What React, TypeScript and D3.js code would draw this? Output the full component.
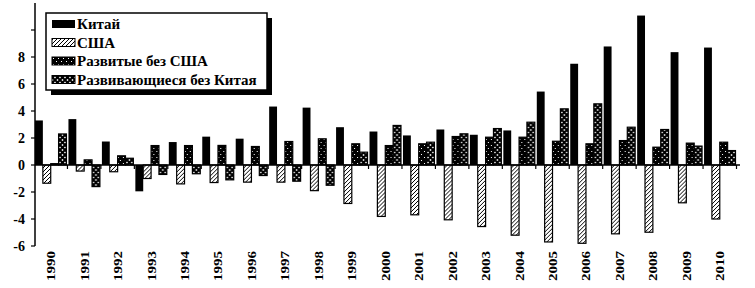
import React from "react";
import * as d3 from "d3";

const years = ["1990","1991","1992","1993","1994","1995","1996","1997","1998","1999","2000","2001","2002","2003","2004","2005","2006","2007","2008","2009","2010"];
const seriesNames = ["Китай", "США", "Развитые без США", "Развивающиеся без Китая"];
const china = [3.3, 3.4, 1.74, -1.95, 1.7, 2.1, 1.95, 4.33, 4.25, 2.8, 2.48, 2.19, 2.63, 2.24, 2.56, 5.44, 7.5, 8.78, 11.07, 8.36, 8.7];
const usa = [-1.35, -0.45, -0.5, -1.0, -1.4, -1.3, -1.27, -1.27, -1.9, -2.85, -3.81, -3.69, -4.06, -4.56, -5.2, -5.7, -5.8, -5.1, -4.98, -2.8, -4.0];
const developedExUS = [0.1, 0.38, 0.68, 1.44, 1.44, 1.45, 1.37, 1.74, 1.94, 1.57, 1.44, 1.57, 2.11, 2.06, 2.06, 1.76, 1.57, 1.81, 1.32, 1.62, 1.69];
const developingExChina = [2.3, -1.6, 0.5, -0.7, -0.65, -1.1, -0.78, -1.2, -1.5, 0.95, 2.93, 1.69, 2.31, 2.7, 3.17, 4.16, 4.53, 2.8, 2.63, 1.4, 1.07];
const yTicks = [-6, -4, -2, 0, 2, 4, 6, 8, 10];
const yLabels = ["-6", "-4", "-2", "0", "2", "4", "6", "8", ""];

const seriesValues = [china, usa, developedExUS, developingExChina];
const fills = ["#000", "url(#hatch)", "url(#stipple)", "url(#cross)"];

const W = 755, H = 288;
const FONT = "'Liberation Serif', 'DejaVu Serif', serif";

export default function App() {
  const y = d3.scaleLinear().domain([-6, 12]).range([246, 3]);
  const x0 = d3.scaleBand<string>().domain(years).range([35, 735.5]).paddingInner(0.06).paddingOuter(0);
  const x1 = d3.scaleBand<number>().domain([0, 1, 2, 3]).range([0, x0.bandwidth()]).padding(0);
  const step = x0.step();
  const gap = step - x0.bandwidth();
  const zeroY = y(0);
  const catTicks = years.map((yr) => (x0(yr) as number) + x0.bandwidth() + gap / 2);

  return (
    <svg width={W} height={H} style={{ position: "absolute", left: 0, top: 0, background: "#fff", fontFamily: FONT }}>
      <defs>
        <pattern id="hatch" patternUnits="userSpaceOnUse" width="4" height="4">
          <rect width="4" height="4" fill="#fff" />
          <path d="M-1,1 l2,-2 M0,4 l4,-4 M3,5 l2,-2" stroke="#000" strokeWidth="1" />
        </pattern>
        <pattern id="stipple" patternUnits="userSpaceOnUse" width="5" height="6">
          <rect width="5" height="6" fill="#000" />
          <rect x="1" y="1" width="1" height="1" fill="#fff" />
          <rect x="3" y="4" width="1" height="1" fill="#fff" />
        </pattern>
        <pattern id="cross" patternUnits="userSpaceOnUse" width="5" height="5">
          <rect width="5" height="5" fill="#fff" />
          <path d="M0,0 L5,5 M5,0 L0,5" stroke="#000" strokeWidth="2" />
        </pattern>
      </defs>

      {years.map((yr, i) => (
        <g key={yr} transform={`translate(${x0(yr)},0)`}>
          {seriesValues.map((vals, s) => {
            const v = vals[i];
            const top = Math.min(y(v), zeroY);
            const h = Math.abs(y(v) - zeroY);
            return (
              <rect
                key={s}
                x={x1(s)}
                y={top}
                width={x1.bandwidth()}
                height={h}
                fill={fills[s]}
                stroke="#000"
                strokeWidth={s === 0 ? 0 : 1.2}
              />
            );
          })}
        </g>
      ))}

      <line x1={35} x2={740} y1={zeroY} y2={zeroY} stroke="#000" strokeWidth={1.5} />
      {catTicks.map((cx, i) => (
        <line key={i} x1={cx} x2={cx} y1={zeroY} y2={zeroY + 4} stroke="#000" strokeWidth={1.2} />
      ))}

      <line x1={35} x2={35} y1={y(12)} y2={y(-6)} stroke="#000" strokeWidth={1.5} />
      {yTicks.map((t, i) => (
        <g key={t}>
          <line x1={31} x2={35} y1={y(t)} y2={y(t)} stroke="#000" strokeWidth={1.2} />
          <text x={25} y={y(t)} dy="0.35em" textAnchor="end" fontSize={14} fontWeight="bold" style={{ fontFamily: FONT }}>{yLabels[i]}</text>
        </g>
      ))}

      {years.map((yr) => {
        const cx = (x0(yr) as number) + x0.bandwidth() / 2;
        return (
          <text
            key={yr}
            transform={`translate(${cx + 4.5},251) rotate(-90)`}
            textAnchor="end"
            fontSize={13}
            fontWeight="bold"
            textLength={30}
            lengthAdjust="spacingAndGlyphs"
            style={{ fontFamily: FONT }}
          >
            {yr}
          </text>
        );
      })}

      <rect x={51} y={18} width={221} height={77} fill="#000" />
      <rect x={46} y={13} width={221} height={77} fill="#fff" stroke="#000" strokeWidth={1.5} />
      {seriesNames.map((name, s) => {
        const cy = 24 + s * 18.5;
        return (
          <g key={name}>
            <rect x={52} y={cy - 4} width={23} height={8} fill={fills[s]} stroke="#000" strokeWidth={s === 0 ? 0 : 1} />
            <text x={77} y={cy} dy="0.35em" fontSize={15} fontWeight="bold" style={{ fontFamily: FONT }}>{name}</text>
          </g>
        );
      })}
    </svg>
  );
}
